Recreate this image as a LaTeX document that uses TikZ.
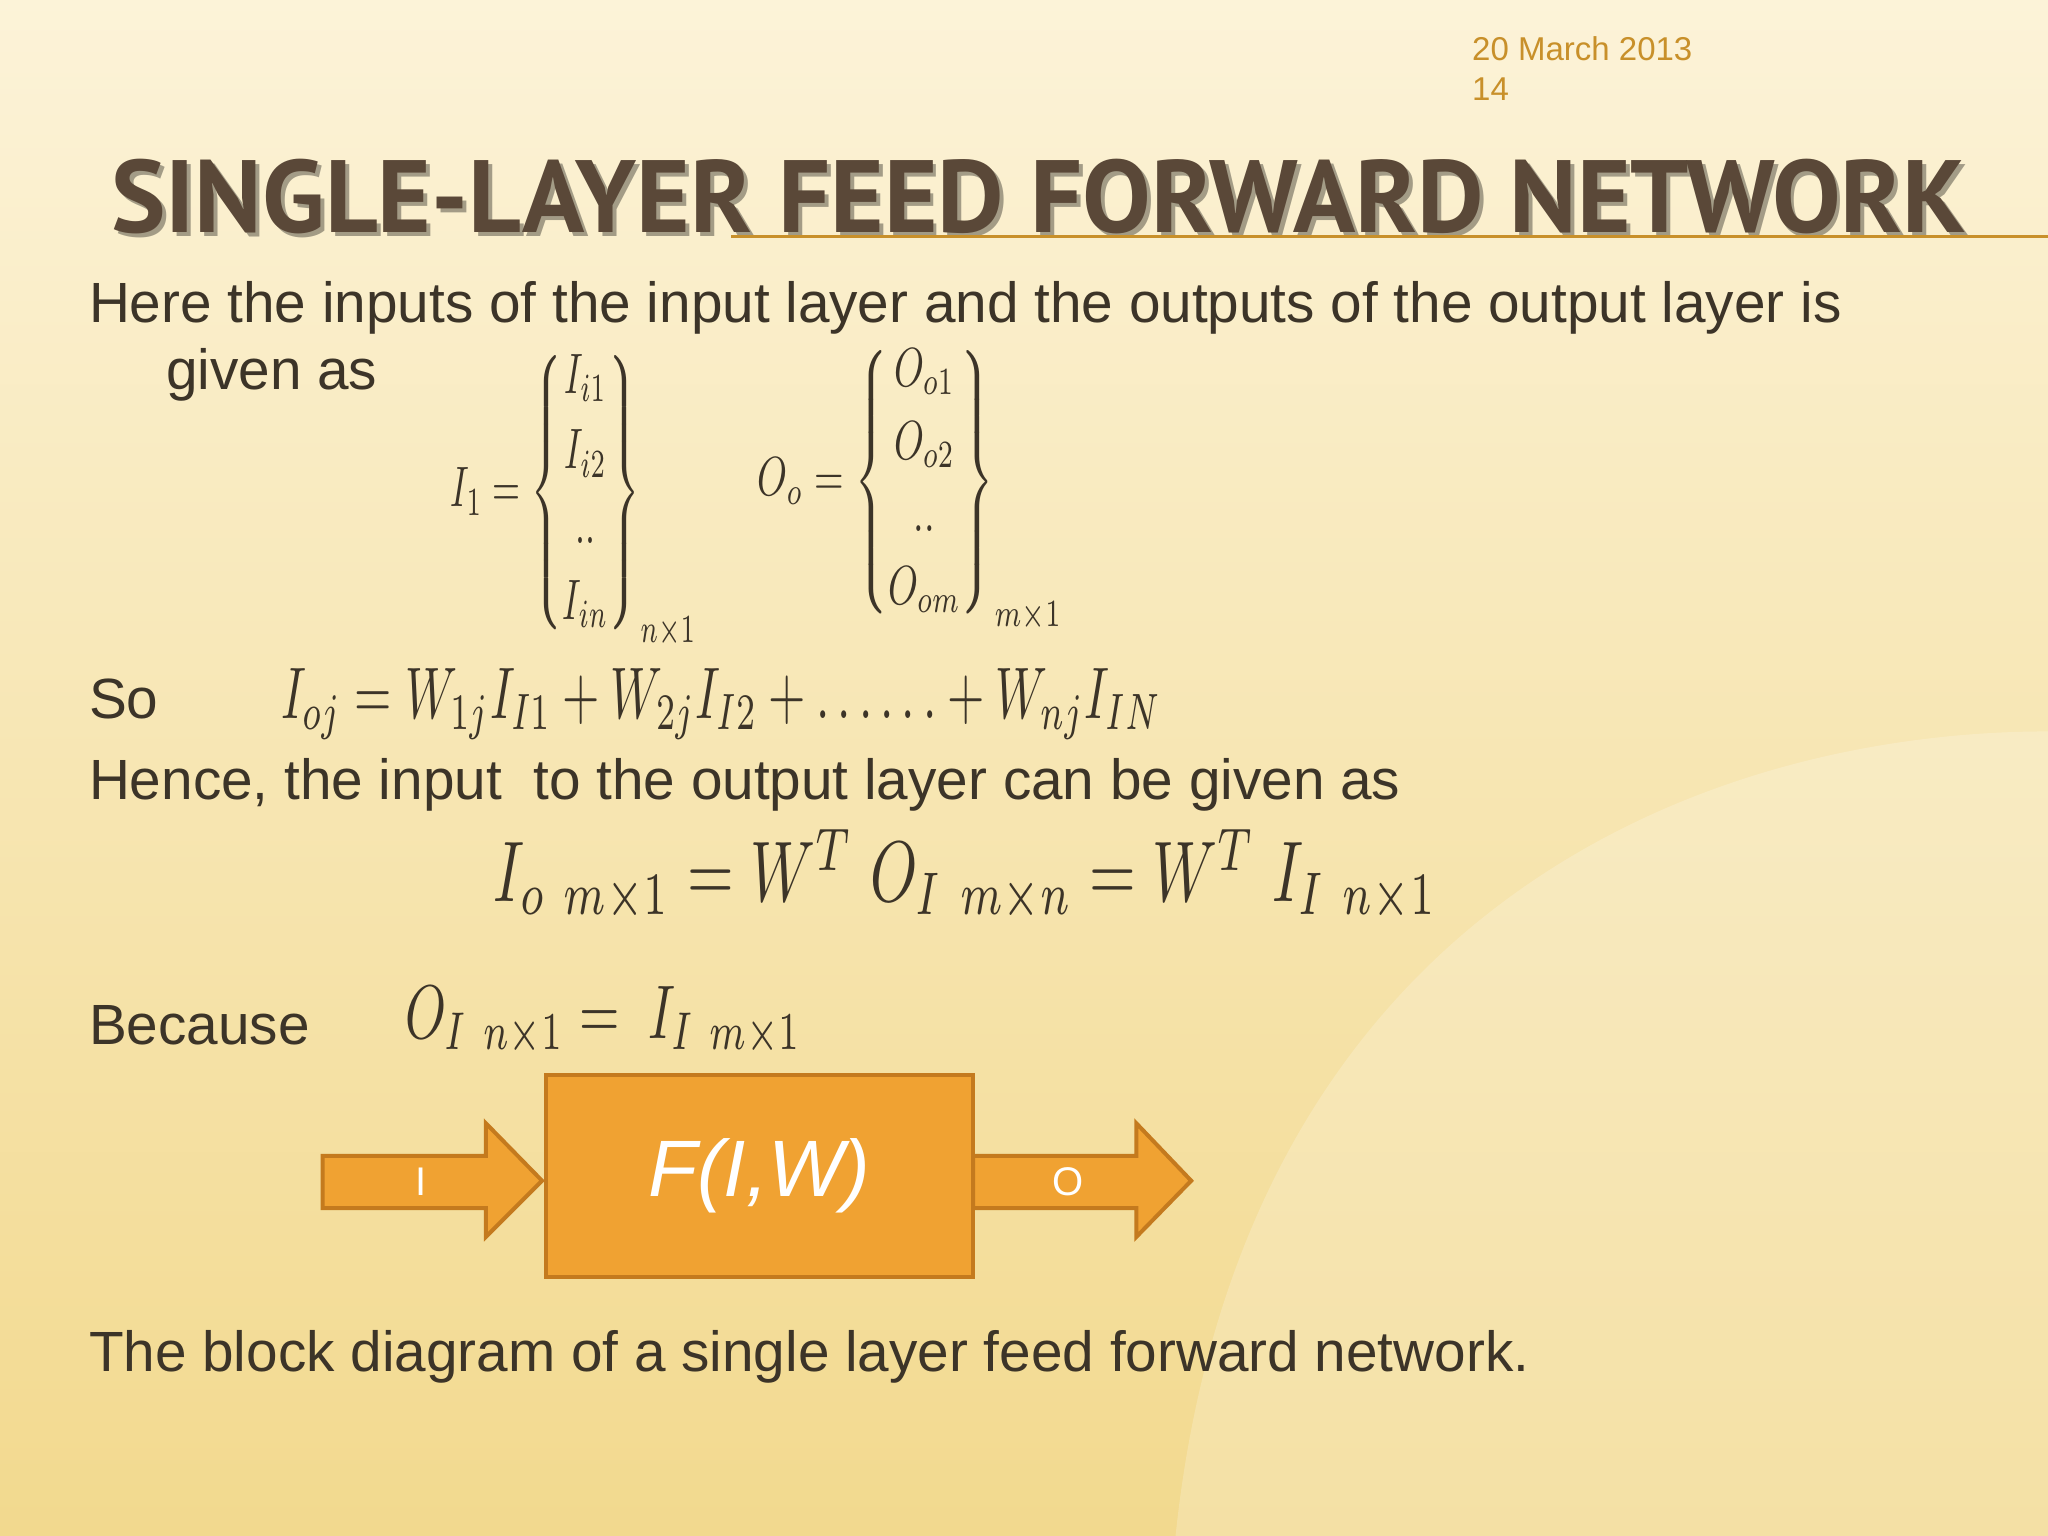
\documentclass[tikz,border=0pt]{standalone}
\usepackage{amsmath}
\usepackage{fontspec}
\setmainfont{Liberation Sans}
\newfontfamily\titlefont{PT Sans}
\definecolor{bgtop}{HTML}{FCF3D8}
\definecolor{bgbot}{HTML}{F2D98E}
\definecolor{orangef}{HTML}{F0A232}
\definecolor{oranged}{HTML}{C47A1E}
\definecolor{datecol}{HTML}{C8902A}
\definecolor{titlecol}{HTML}{5A4838}
\definecolor{bodycol}{HTML}{3C3428}
\tikzset{
  body/.style={anchor=base west,inner sep=0,text=bodycol,font=\fontsize{56.7}{68}\selectfont},
  mathn/.style={anchor=base west,inner sep=0,text=bodycol},
  arrowshape/.style={fill=orangef,draw=oranged,line width=4pt},
}
\begin{document}
\begin{tikzpicture}[x=1.306pt,y=-1.306pt]
\useasboundingbox (0,0) rectangle (1568,1176);
\shade[top color=bgtop,bottom color=bgbot] (0,0) rectangle (1568,1176);
\fill[white,opacity=0.2] (900,1176) .. controls (950,700) and (1300,560) .. (1568,560) -- (1568,1176) -- cycle;
% date
\node[anchor=base west,inner sep=0,text=datecol,font=\fontsize{33}{40}\selectfont] (date) at (1127,46) {20 March 2013};
\node[anchor=base west,inner sep=0,text=datecol,font=\fontsize{33}{40}\selectfont] (pg) at (1127,77) {14};
% title
\node[anchor=base west,inner sep=0,text=black,opacity=0.35,font=\titlefont\bfseries\fontsize{100}{110}\selectfont] (titlesh) at (88,181)
  {\resizebox{1855pt}{!}{SINGLE-LAYER FEED FORWARD NETWORK}};
\node[anchor=base west,inner sep=0,text=titlecol,font=\titlefont\bfseries\fontsize{100}{110}\selectfont] (title) at (85,178)
  {\resizebox{1855pt}{!}{SINGLE-LAYER FEED FORWARD NETWORK}};
\draw[datecol,line width=2.5pt] (560,181) -- (1568,181);
% body
\node[body] (l1) at (68,247) {Here the inputs of the input layer and the outputs of the output layer is};
\node[body] (l2) at (127,298) {given as};
\node[mathn,anchor=west] (mi) at (345,380)
 {\scalebox{3.6}[5.7]{$I_1=\left\{\begin{matrix} I_{i1}\\[1.2pt] I_{i2}\\[1.2pt] ..\\[1.2pt] I_{in}\end{matrix}\right\}_{n\times1}$}};
\node[mathn,anchor=west] (mo) at (580,372)
 {\scalebox{3.8}[5.5]{$O_o=\left\{\begin{matrix} O_{o1}\\[1.2pt] O_{o2}\\[1.2pt] ..\\[1.2pt] O_{om}\end{matrix}\right\}_{m\times1}$}};
\node[body] (so) at (68,550) {So};
\node[mathn] (e1) at (215,550)
 {\scalebox{4.8}[7.3]{$I_{oj}=W_{1j}I_{I1}+W_{2j}I_{I2}+\ldots\ldots+W_{nj}I_{IN}$}};
\node[body] (hence) at (68,612) {Hence, the input\ \ to the output layer can be given as};
\node[mathn] (e2) at (378,690)
 {\scalebox{6.0}[8.6]{$I_o\;{}_{m\times1}=W^{T}\;O_I\;{}_{m\times n}=W^{T}\;I_I\;{}_{n\times1}$}};
\node[body] (because) at (68,800) {Because};
\node[mathn] (e3) at (310,795)
 {\scalebox{5.2}[7.6]{$O_I\;{}_{n\times1}=\;I_I\;{}_{m\times1}$}};
% block diagram
\draw[arrowshape] (247,885) -- (372,885) -- (372,860) -- (415,904) -- (372,947) -- (372,925) -- (247,925) -- cycle;
\draw[arrowshape] (745,885) -- (870,885) -- (870,860) -- (912,904) -- (870,947) -- (870,925) -- (745,925) -- cycle;
\node[fill=orangef,draw=oranged,line width=4pt,minimum width=327*1.306pt,minimum height=155*1.306pt,
  text=white,font=\itshape\fontsize{80}{90}\selectfont] (F) at (581.5,900.5) {F(I,W)};
\node[text=white,font=\fontsize{40}{48}\selectfont] (lI) at (322,905) {I};
\node[text=white,font=\fontsize{40}{48}\selectfont] (lO) at (818,905) {O};
\node[body] (cap) at (68,1050) {The block diagram of a single layer feed forward network.};
\end{tikzpicture}
\end{document}
